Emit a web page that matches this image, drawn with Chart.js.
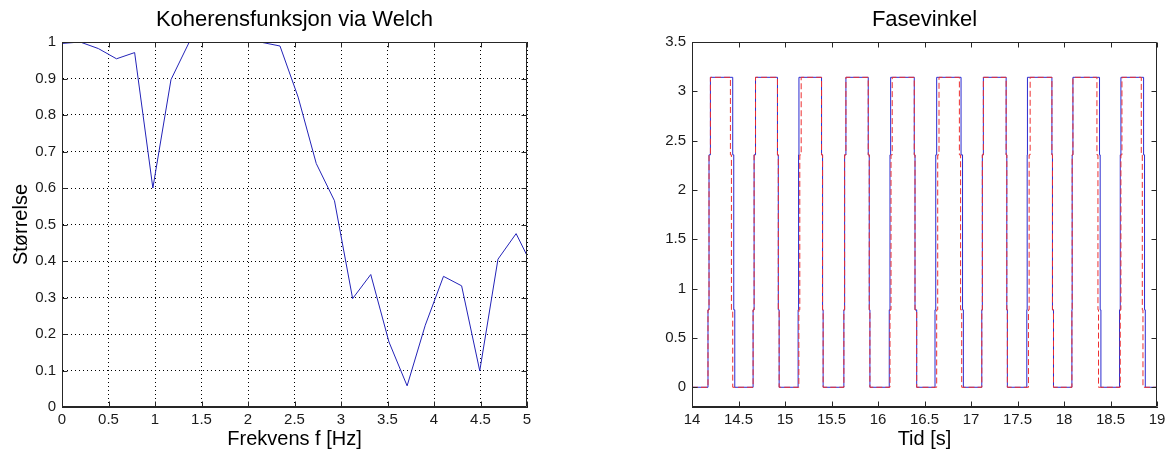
<!DOCTYPE html>
<html>
<head>
<meta charset="utf-8">
<title>Koherens og fasevinkel</title>
<script src="https://cdn.jsdelivr.net/npm/chart.js@4.4.1/dist/chart.umd.min.js"></script>
<style>
  html, body { margin: 0; padding: 0; background: #fff; overflow: hidden; }
  #wrap { position: relative; width: 1173px; height: 454px; }
  canvas { position: absolute; top: 0; }
  #koherens { left: 0; }
  #fase { left: 630px; }
</style>
</head>
<body>
<div id="wrap">
  <canvas id="koherens" width="560" height="454"></canvas>
  <canvas id="fase" width="543" height="454"></canvas>
</div>
<script>
// Koherensfunksjon (Welch): frekvens i Hz og størrelse
const frekvens = [0, 0.195, 0.391, 0.586, 0.781, 0.977, 1.172, 1.367, 1.563, 1.758, 1.953, 2.148, 2.344,
  2.539, 2.734, 2.930, 3.125, 3.320, 3.516, 3.711, 3.906, 4.102, 4.297, 4.492, 4.688, 4.883, 5.078];
const koherens = [0.996, 1.0, 0.982, 0.954, 0.971, 0.600, 0.897, 0.999, 1.0, 1.0, 1.0, 0.999, 0.989,
  0.849, 0.667, 0.565, 0.297, 0.363, 0.178, 0.058, 0.224, 0.358, 0.332, 0.099, 0.405, 0.475, 0.375];
const frekvensTicks = [0, 0.5, 1, 1.5, 2, 2.5, 3, 3.5, 4, 4.5, 5];
const koherensTicks = [0, 0.1, 0.2, 0.3, 0.4, 0.5, 0.6, 0.7, 0.8, 0.9, 1];

// Fasevinkel: trinnpunkter (tid, ny verdi) for blå og rød kurve
const blaTid = [14, 14.172, 14.183, 14.198, 14.438, 14.449, 14.460, 14.657, 14.668, 14.683, 14.919, 14.928, 14.937,
  15.141, 15.146, 15.150, 15.393, 15.404, 15.410, 15.633, 15.641, 15.655, 15.895, 15.906, 15.913,
  16.121, 16.129, 16.136, 16.390, 16.398, 16.416, 16.613, 16.621, 16.631, 16.893, 16.909, 16.918,
  17.116, 17.122, 17.133, 17.378, 17.385, 17.391, 17.600, 17.604, 17.607, 17.870, 17.876, 17.887,
  18.085, 18.088, 18.096, 18.382, 18.389, 18.397, 18.597, 18.605, 18.612, 18.856, 18.866, 18.874, 19];
const blaFase = [0, 0.785, 2.356, 3.142, 2.356, 0.785, 0, 0.785, 2.356, 3.142, 2.356, 0.785, 0,
  0.785, 2.356, 3.142, 2.356, 0.785, 0, 0.785, 2.356, 3.142, 2.356, 0.785, 0,
  0.785, 2.356, 3.142, 2.356, 0.785, 0, 0.785, 2.356, 3.142, 2.356, 0.785, 0,
  0.785, 2.356, 3.142, 2.356, 0.785, 0, 0.785, 2.356, 3.142, 2.356, 0.785, 0,
  0.785, 2.356, 3.142, 2.356, 0.785, 0, 0.785, 2.356, 3.142, 2.356, 0.785, 0, 0];
const rodTid = [14, 14.172, 14.183, 14.198, 14.413, 14.424, 14.438, 14.657, 14.668, 14.683, 14.919, 14.928, 14.937,
  15.149, 15.159, 15.174, 15.393, 15.404, 15.410, 15.633, 15.641, 15.655, 15.895, 15.906, 15.913,
  16.129, 16.140, 16.153, 16.390, 16.398, 16.416, 16.631, 16.642, 16.656, 16.875, 16.888, 16.900,
  17.116, 17.122, 17.133, 17.378, 17.385, 17.391, 17.618, 17.625, 17.636, 17.870, 17.876, 17.887,
  18.085, 18.088, 18.096, 18.354, 18.365, 18.371, 18.605, 18.612, 18.623, 18.831, 18.842, 18.849, 19];
const rodFase = [0, 0.785, 2.356, 3.142, 2.356, 0.785, 0, 0.785, 2.356, 3.142, 2.356, 0.785, 0,
  0.785, 2.356, 3.142, 2.356, 0.785, 0, 0.785, 2.356, 3.142, 2.356, 0.785, 0,
  0.785, 2.356, 3.142, 2.356, 0.785, 0, 0.785, 2.356, 3.142, 2.356, 0.785, 0,
  0.785, 2.356, 3.142, 2.356, 0.785, 0, 0.785, 2.356, 3.142, 2.356, 0.785, 0,
  0.785, 2.356, 3.142, 2.356, 0.785, 0, 0.785, 2.356, 3.142, 2.356, 0.785, 0, 0];
const tidTicks = [14, 14.5, 15, 15.5, 16, 16.5, 17, 17.5, 18, 18.5, 19];
const faseTicks = [0, 0.5, 1, 1.5, 2, 2.5, 3, 3.5];

const aksefarge = '#262626';
Chart.defaults.font.family = '"Liberation Sans", Arial, Helvetica, sans-serif';
Chart.defaults.color = '#1a1a1a';

function punkter(xs, ys) {
  return xs.map((x, i) => ({ x: x, y: ys[i] }));
}

function faste(verdier) {
  return function (scale) {
    scale.ticks = verdier.map(v => ({ value: v }));
  };
}

// boks rundt plottet med innovervendte tick-merker på alle fire sider
const ramme = {
  id: 'ramme',
  afterDatasetsDraw(chart) {
    const ctx = chart.ctx;
    const a = chart.chartArea;
    const sx = chart.scales.x, sy = chart.scales.y;
    const l = Math.round(a.left) + 0.5, r = Math.round(a.right) - 0.5;
    const t = Math.round(a.top) + 0.5, b = Math.round(a.bottom) - 0.5;
    const len = 5;
    ctx.save();
    ctx.strokeStyle = aksefarge;
    ctx.lineWidth = 1;
    ctx.beginPath();
    ctx.rect(l, t, r - l, b - t);
    sx.ticks.forEach(tk => {
      const px = Math.round(sx.getPixelForValue(tk.value)) + 0.5;
      ctx.moveTo(px, b); ctx.lineTo(px, b - len);
      ctx.moveTo(px, t); ctx.lineTo(px, t + len);
    });
    sy.ticks.forEach(tk => {
      const py = Math.round(sy.getPixelForValue(tk.value)) + 0.5;
      ctx.moveTo(l, py); ctx.lineTo(l + len, py);
      ctx.moveTo(r, py); ctx.lineTo(r - len, py);
    });
    ctx.stroke();
    ctx.restore();
  }
};

function tittel(tekst) {
  return {
    display: true,
    text: tekst,
    color: '#000',
    fullSize: false,
    font: { size: 22, weight: 'normal' },
    padding: { top: 6.9, bottom: 8.7 }
  };
}

new Chart('koherens', {
  type: 'line',
  data: {
    datasets: [{
      data: punkter(frekvens, koherens),
      borderColor: '#2323b8',
      borderWidth: 1,
      pointRadius: 0,
      tension: 0,
      clip: 0
    }]
  },
  options: {
    responsive: false,
    animation: false,
    devicePixelRatio: 1,
    layout: { padding: { left: 0, top: 0, right: 33, bottom: 0 } },
    plugins: {
      legend: { display: false },
      tooltip: { enabled: false },
      title: tittel('Koherensfunksjon via Welch')
    },
    scales: {
      x: {
        type: 'linear',
        min: 0,
        max: 5,
        afterBuildTicks: faste(frekvensTicks),
        afterFit: s => { s.height = 47; },
        grid: { color: '#000', lineWidth: 1, drawTicks: false },
        border: { color: aksefarge, dash: [1, 3] },
        ticks: { font: { size: 15 }, padding: 3.5, maxRotation: 0, callback: v => String(v) },
        title: { display: true, text: 'Frekvens f [Hz]', color: '#000', font: { size: 20 }, padding: { top: 0, bottom: 3 } }
      },
      y: {
        type: 'linear',
        min: 0,
        max: 1,
        afterBuildTicks: faste(koherensTicks),
        afterFit: s => { s.width = 62; },
        grid: { color: '#000', lineWidth: 1, drawTicks: false },
        border: { color: aksefarge, dash: [1, 3] },
        ticks: { font: { size: 15 }, padding: 6, callback: v => String(v) },
        title: { display: true, text: 'Størrelse', color: '#000', font: { size: 20 }, padding: { top: 9.6, bottom: 0 } }
      }
    }
  },
  plugins: [ramme]
});

new Chart('fase', {
  type: 'line',
  data: {
    datasets: [{
      data: punkter(rodTid, rodFase),
      borderColor: '#ee3030',
      borderWidth: 1,
      borderDash: [6, 3],
      stepped: true,
      pointRadius: 0,
      order: 0
    }, {
      data: punkter(blaTid, blaFase),
      borderColor: '#2b2bd0',
      borderWidth: 1,
      stepped: true,
      pointRadius: 0,
      order: 1
    }]
  },
  options: {
    responsive: false,
    animation: false,
    devicePixelRatio: 1,
    layout: { padding: { left: 0, top: 0, right: 16, bottom: 0 } },
    plugins: {
      legend: { display: false },
      tooltip: { enabled: false },
      title: tittel('Fasevinkel')
    },
    scales: {
      x: {
        type: 'linear',
        min: 14,
        max: 19,
        afterBuildTicks: faste(tidTicks),
        afterFit: s => { s.height = 47; },
        grid: { display: false, drawTicks: false },
        border: { color: aksefarge },
        ticks: { font: { size: 15 }, padding: 3.5, maxRotation: 0, callback: v => String(v) },
        title: { display: true, text: 'Tid [s]', color: '#000', font: { size: 20 }, padding: { top: 0, bottom: 3 } }
      },
      y: {
        type: 'linear',
        min: -0.2,
        max: 3.5,
        afterBuildTicks: faste(faseTicks),
        afterFit: s => { s.width = 62; },
        grid: { display: false, drawTicks: false },
        border: { color: aksefarge },
        ticks: { font: { size: 15 }, padding: 6, callback: v => String(v) }
      }
    }
  },
  plugins: [ramme]
});
</script>
</body>
</html>
